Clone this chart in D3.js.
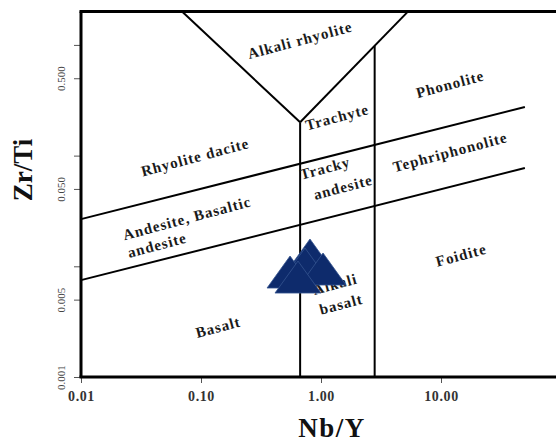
<!DOCTYPE html>
<html>
<head>
<meta charset="utf-8">
<script src="https://cdn.jsdelivr.net/npm/d3@7"></script>
<style>
  html, body { margin: 0; padding: 0; background: #fff; }
  svg { display: block; }
</style>
</head>
<body>
<svg id="chart" width="556" height="442"></svg>
<script>
// Winchester & Floyd Nb/Y vs Zr/Ti classification diagram

// Sample analyses
const sampleNbY  = [0.809, 0.736, 0.552, 1.04, 0.643];
const sampleZrTi = [0.01265, 0.0105, 0.00888, 0.00945, 0.0080];

// Axis ticks
const xTickValues = [0.01, 0.1, 1, 10];
const xTickLabels = ["0.01", "0.10", "1.00", "10.00"];
const yTickValues = [0.001, 0.005, 0.01, 0.05, 0.1, 0.5, 1];
const yTickLabels = ["0.001", "0.005", "", "0.050", "", "0.500", ""];

// Field boundaries, each as [Nb/Y, Zr/Ti] end points
const boundaryStart = [[0.01, 0.0267], [0.01, 0.0075], [0.67, 0.001], [2.8, 0.001], [0.0695, 2], [0.67, 0.2]];
const boundaryEnd   = [[50, 0.275],    [50, 0.0773],   [0.67, 0.2],   [2.8, 0.98],  [0.67, 0.2],  [5.3, 2]];

// Field names with anchor points [Nb/Y, Zr/Ti]
const fieldNames  = ["Alkali rhyolite", "Phonolite", "Trachyte", "Rhyolite dacite", "Tracky", "andesite",
                     "Tephriphonolite", "Andesite, Basaltic", "andesite", "Foidite", "Alkali", "basalt", "Basalt"];
const fieldNbY    = [0.668, 11.9, 1.36, 0.0891, 1.08, 1.525, 11.9, 0.0764, 0.043, 14.7, 1.31, 1.47, 0.1387];
const fieldZrTi   = [1.107, 0.443, 0.223, 0.097, 0.0773, 0.052, 0.108, 0.0273, 0.01556, 0.01265, 0.00692, 0.00456, 0.00283];

const svg = d3.select("#chart");

const x = d3.scaleLog().domain([0.01, 100]).range([81, 561]);
const y = d3.scaleLog().domain([0.001, 2]).range([377, 11.6]);

const serif = "'Liberation Serif', 'Times New Roman', serif";

// Field boundaries
const boundaries = boundaryStart.map((s, i) => [s, boundaryEnd[i]]);
svg.append("g")
  .selectAll("line")
  .data(boundaries)
  .join("line")
  .attr("x1", d => x(d[0][0]))
  .attr("y1", d => y(d[0][1]))
  .attr("x2", d => x(d[1][0]))
  .attr("y2", d => y(d[1][1]))
  .attr("stroke", "#000")
  .attr("stroke-width", 2);

// Field names
svg.append("g")
  .selectAll("text")
  .data(fieldNames.map((t, i) => ({ t, nx: fieldNbY[i], zy: fieldZrTi[i] })))
  .join("text")
  .attr("transform", d => `translate(${x(d.nx)},${y(d.zy)}) rotate(-15)`)
  .attr("text-anchor", "middle")
  .attr("dy", "0.35em")
  .attr("font-family", serif)
  .attr("font-weight", "bold")
  .attr("font-size", 15)
  .attr("letter-spacing", 1)
  .attr("fill", "#1a1a1a")
  .text(d => d.t);

// Axes
const xAxis = d3.axisBottom(x)
  .tickValues(xTickValues)
  .tickFormat((d, i) => xTickLabels[i])
  .tickSize(6)
  .tickSizeOuter(0);
const gx = svg.append("g").attr("transform", "translate(0,377)").call(xAxis);
gx.select(".domain").remove();
gx.selectAll(".tick line").attr("stroke", "#555").attr("stroke-width", 1);
gx.selectAll(".tick text")
  .attr("y", 14)
  .attr("dy", "0.71em")
  .attr("font-family", serif)
  .attr("font-weight", "bold")
  .attr("font-size", 14)
  .attr("letter-spacing", 0.6)
  .attr("fill", "#333");

const yAxis = d3.axisLeft(y)
  .tickValues(yTickValues)
  .tickFormat((d, i) => yTickLabels[i])
  .tickSize(7)
  .tickSizeOuter(0);
const gy = svg.append("g").attr("transform", "translate(81,0)").call(yAxis);
gy.select(".domain").remove();
gy.selectAll(".tick line").attr("stroke", "#555").attr("stroke-width", 1);
gy.selectAll(".tick text")
  .attr("x", null)
  .attr("dy", null)
  .attr("text-anchor", "middle")
  .attr("transform", "translate(-16,0) rotate(-90)")
  .attr("font-family", serif)
  .attr("font-size", 11)
  .attr("fill", "#444");

// Plot frame: left, top and bottom edges
const frame = svg.append("g").attr("stroke", "#000").attr("stroke-width", 3).attr("fill", "none");
frame.append("line").attr("x1", x(0.01)).attr("x2", x(0.01)).attr("y1", y(2)).attr("y2", y(0.001));
frame.append("line").attr("x1", x(0.01) - 1.5).attr("x2", x(100)).attr("y1", y(2)).attr("y2", y(2));
frame.append("line").attr("x1", x(0.01) - 1.5).attr("x2", x(100)).attr("y1", y(0.001)).attr("y2", y(0.001));
frame.append("line").attr("x1", x(100)).attr("x2", x(100)).attr("y1", y(2)).attr("y2", y(0.001));

// Axis titles
svg.append("text")
  .attr("x", 332).attr("y", 437)
  .attr("text-anchor", "middle")
  .attr("font-family", serif)
  .attr("font-weight", "bold")
  .attr("font-size", 27)
  .attr("letter-spacing", 1.5)
  .attr("fill", "#111")
  .text("Nb/Y");

svg.append("text")
  .attr("transform", "translate(32,170) rotate(-90)")
  .attr("text-anchor", "middle")
  .attr("font-family", serif)
  .attr("font-weight", "bold")
  .attr("font-size", 27)
  .attr("fill", "#111")
  .text("Zr/Ti");

// Sample markers: filled triangles
const triW = 46, triH = 32;
const tri = `M0,${-triH / 2}L${triW / 2},${triH / 2}L${-triW / 2},${triH / 2}Z`;
svg.append("g")
  .selectAll("path")
  .data(sampleNbY.map((v, i) => [v, sampleZrTi[i]]))
  .join("path")
  .attr("transform", d => `translate(${x(d[0])},${y(d[1])})`)
  .attr("d", tri)
  .attr("fill", "#0e2b6c")
  .attr("stroke", "#35548f")
  .attr("stroke-width", 0.8);
</script>
</body>
</html>
